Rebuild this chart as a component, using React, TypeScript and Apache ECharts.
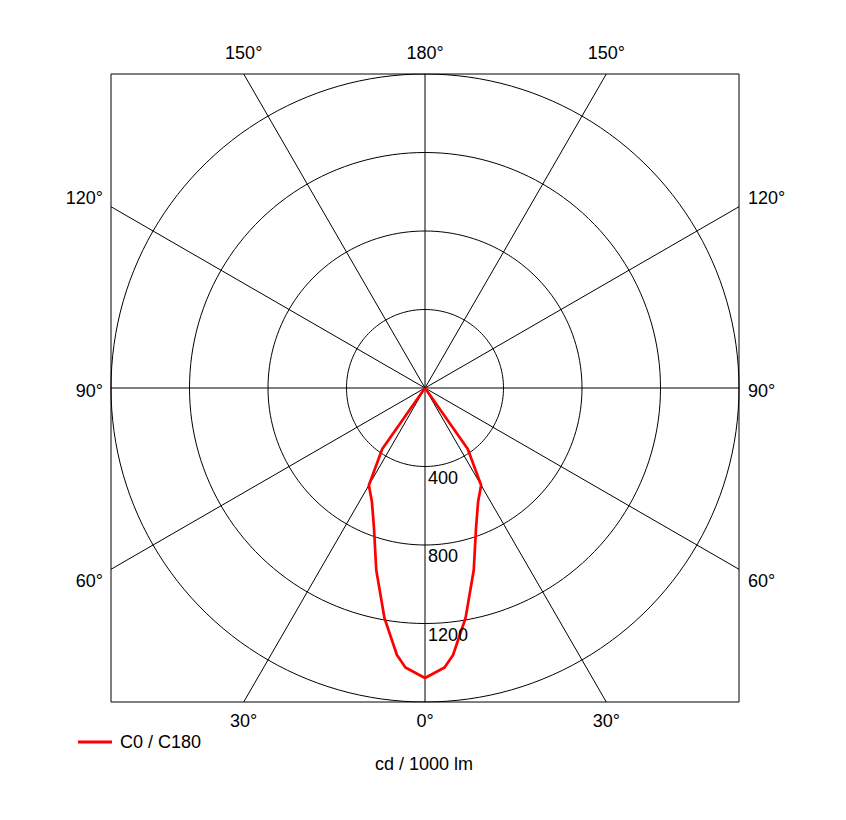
import React, { useEffect, useRef } from "react";
import * as echarts from "echarts";

// ---- data ----
// luminous intensity (cd / 1000 lm) vs gamma angle (deg from nadir), C0 / C180 plane
const gammaDeg = [0, 4, 6, 10, 15, 20, 25, 30, 35, 40];
const intensityC0 = [1478, 1428, 1368, 1190, 960, 760, 640, 572, 380, 0];
const intensityC180 = [1478, 1428, 1368, 1190, 960, 760, 640, 572, 380, 0];

const ringValues = [400, 800, 1200, 1600];
const ringLabels = ["400", "800", "1200"];
const spokeAngles = [0, 30, 60, 90, 120, 150];
const topLabels = ["150°", "180°", "150°"];
const sideLabels = ["120°", "90°", "60°"];
const bottomLabels = ["30°", "0°", "30°"];

const seriesName = "C0 / C180";
const unitLabel = "cd / 1000 lm";
const maxR = 1600;

const FONT = "'Liberation Sans', Arial, sans-serif";

const rad = (d: number) => (d * Math.PI) / 180;

function buildOption() {
  const series: any[] = [];

  // rings
  ringValues.forEach((r) => {
    const pts: number[][] = [];
    for (let a = 0; a <= 360; a += 2) {
      pts.push([r * Math.cos(rad(a)), r * Math.sin(rad(a))]);
    }
    series.push({
      type: "line",
      data: pts,
      symbol: "none",
      silent: true,
      lineStyle: { color: "#000", width: 1 },
      z: 1,
    });
  });

  // spokes (through centre, to the box edge)
  spokeAngles.forEach((a) => {
    const s = Math.sin(rad(a));
    const c = Math.cos(rad(a));
    const t = maxR / Math.max(Math.abs(s), Math.abs(c));
    series.push({
      type: "line",
      data: [
        [-t * s, t * c],
        [t * s, -t * c],
      ],
      symbol: "none",
      silent: true,
      lineStyle: { color: "#000", width: 1 },
      z: 1,
    });
  });

  // curve
  const curve: number[][] = [];
  for (let i = gammaDeg.length - 1; i >= 0; i--) {
    const g = rad(gammaDeg[i]);
    const I = intensityC180[i];
    curve.push([-I * Math.sin(g), -I * Math.cos(g)]);
  }
  for (let i = 1; i < gammaDeg.length; i++) {
    const g = rad(gammaDeg[i]);
    const I = intensityC0[i];
    curve.push([I * Math.sin(g), -I * Math.cos(g)]);
  }
  series.push({
    name: seriesName,
    type: "line",
    data: curve,
    symbol: "none",
    silent: true,
    lineStyle: { color: "#ff0000", width: 2.7 },
    itemStyle: { color: "#ff0000" },
    z: 5,
  });

  // angle labels at spoke ends
  const tanOff = maxR * Math.tan(rad(30));
  const labelPts: any[] = [];
  const xs = [-tanOff, 0, tanOff];
  const base = { color: "#000", textBorderWidth: 0, opacity: 1 };
  topLabels.forEach((t, i) =>
    labelPts.push({
      value: [xs[i], maxR],
      label: { ...base, formatter: t, position: [0, -21], align: "center", verticalAlign: "middle" },
    })
  );
  bottomLabels.forEach((t, i) =>
    labelPts.push({
      value: [xs[i], -maxR],
      label: { ...base, formatter: t, position: [0, 19], align: "center", verticalAlign: "middle" },
    })
  );
  const ys = [tanOff, 0, -tanOff];
  const dys = [-9, 3, 12];
  sideLabels.forEach((t, i) => {
    labelPts.push({
      value: [-maxR, ys[i]],
      label: { ...base, formatter: t, position: [-8, dys[i]], align: "right", verticalAlign: "middle" },
    });
    labelPts.push({
      value: [maxR, ys[i]],
      label: { ...base, formatter: t, position: [9, dys[i]], align: "left", verticalAlign: "middle" },
    });
  });
  ringLabels.forEach((t, i) =>
    labelPts.push({
      value: [0, -ringValues[i]],
      label: { ...base, formatter: t, position: [3, 2], align: "left", verticalAlign: "top" },
    })
  );
  series.push({
    type: "scatter",
    data: labelPts,
    symbolSize: 0,
    silent: true,
    itemStyle: { color: "#000", opacity: 1 },
    label: { show: true, color: "#000", fontSize: 18, fontFamily: FONT, textBorderWidth: 0 },
    z: 6,
  });

  return {
    animation: false,
    backgroundColor: "#fff",
    grid: {
      left: 103,
      top: 66,
      width: 628,
      height: 628,
      show: true,
      borderColor: "#000",
      borderWidth: 1,
      backgroundColor: "transparent",
      containLabel: false,
    },
    xAxis: { type: "value", min: -maxR, max: maxR, show: false },
    yAxis: { type: "value", min: -maxR, max: maxR, show: false },
    legend: {
      data: [seriesName],
      left: 70,
      top: 725,
      padding: 0,
      icon: "rect",
      itemWidth: 34,
      itemHeight: 3,
      selectedMode: false,
      textStyle: { fontSize: 18, color: "#000", fontFamily: FONT, padding: [0, 0, 0, 3] },
    },
    graphic: [
      {
        type: "text",
        x: 416,
        y: 756,
        style: {
          text: unitLabel,
          fontSize: 18,
          fontFamily: FONT,
          fill: "#000",
          textAlign: "center",
          textVerticalAlign: "middle",
        },
      },
    ],
    series,
  };
}

export default function App() {
  const ref = useRef<HTMLDivElement>(null);
  useEffect(() => {
    if (!ref.current) return;
    const chart = echarts.init(ref.current, undefined, { renderer: "svg" });
    chart.setOption(buildOption() as any);
    return () => chart.dispose();
  }, []);
  return <div ref={ref} style={{ width: 830, height: 804 }} />;
}
